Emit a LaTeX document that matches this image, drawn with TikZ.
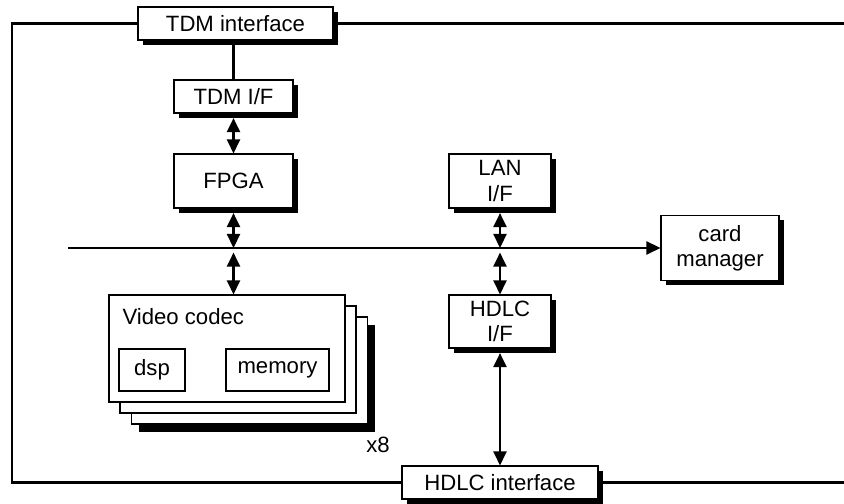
\documentclass[tikz,border=0pt]{standalone}
\usepackage{fontspec}
\setmainfont{Liberation Sans}
\usetikzlibrary{arrows.meta, shadows, positioning, calc}
\tikzset{
  % thin box borders, heavier wires
  every picture/.append style = {line width=0.6pt},
  lbl/.style      = {font=\fontsize{12.6}{14.3}\selectfont},
  blk/.style      = {lbl, draw, fill=white, line width=0.6pt, align=center, inner sep=0pt},
  shadowed/.style = {blk, drop shadow={shadow xshift=2.6pt, shadow yshift=-2.6pt,
                       fill=black, opacity=1}},
  wire/.style     = {line width=1.3pt, black},
  dbl/.style      = {{Triangle[length=2.8mm, width=2.6mm]}-{Triangle[length=2.8mm, width=2.6mm]},
                     line width=1.3pt, shorten <=2.6pt},
  sgl/.style      = {-{Triangle[length=2.8mm, width=2.6mm]}, line width=1.3pt},
}

\begin{document}
\begin{tikzpicture}[
    card/.style={blk, minimum width=4.72cm, minimum height=2.14cm}]
  \useasboundingbox (0,0) rectangle (16.88,10.08);
  % interfaces on the frame
  \node[shadowed, minimum width=3.9cm, minimum height=0.66cm] (tdm) at (4.71,9.61) {TDM interface};
  \node[shadowed, minimum width=3.92cm, minimum height=0.66cm] (hdlc) at (10.0,0.43) {HDLC interface};
  % blocks
  \node[shadowed, minimum width=2.38cm, minimum height=0.66cm] (tdmif) at (4.67,8.15) {TDM I/F};
  \node[shadowed, minimum width=2.38cm, minimum height=1.08cm] (fpga) at (4.67,6.46) {FPGA};
  \node[shadowed, minimum width=2.04cm, minimum height=1.08cm] (lanif) at (10.0,6.46) {LAN\\I/F};
  \node[shadowed, minimum width=2.36cm, minimum height=1.3cm] (cardmgr) at (14.4,5.12) {card\\manager};
  \node[shadowed, minimum width=2.04cm, minimum height=1.06cm] (hdlcif) at (10.0,3.65) {HDLC\\I/F};
  % stack of video codecs
  \node[card, drop shadow={shadow xshift=4.5pt, shadow yshift=-4.5pt, fill=black, opacity=1}]
    (codecC) at (4.99,2.67) {};
  \node[card] (codecB) at (4.76,2.89) {};
  \node[card] (codec) at (4.54,3.11) {};
  \node[lbl, anchor=west, inner sep=0pt] (codeclbl) at (2.44,3.74) {Video codec};
  \node[blk, minimum width=1.32cm, minimum height=0.84cm] (dsp) at (3.04,2.68) {dsp};
  \node[blk, minimum width=2.06cm, minimum height=0.84cm] (memory) at (5.55,2.68) {memory};
  \node[lbl, inner sep=0pt] (times) at (7.56,1.18) {x8};
  % frame and bus
  \coordinate (frameL) at (0.24,5);
  \coordinate (topR) at (16.88,9.61);
  \coordinate (botR) at (16.88,0.43);
  \coordinate (busL) at (1.36,5.12);
  \draw[wire] (tdm.east) -- (topR);
  \draw[wire] (tdm.west) -| (frameL) |- (hdlc.west);
  \draw[wire] (hdlc.east) -- (botR);
  \draw[sgl] (busL) -- (cardmgr.west);
  % links
  \draw[wire] (tdmif.north |- tdm.south) -- (tdmif.north);
  \draw[dbl] (tdmif.south) -- (fpga.north);
  \draw[dbl] (fpga.south) -- (fpga.south |- busL);
  \draw[dbl] (fpga.south |- busL) -- (fpga.south |- codec.north);
  \draw[dbl] (lanif.south) -- (lanif.south |- busL);
  \draw[dbl] (lanif.south |- busL) -- (hdlcif.north);
  \draw[dbl] (hdlcif.south) -- (hdlc.north);
\end{tikzpicture}
\end{document}
